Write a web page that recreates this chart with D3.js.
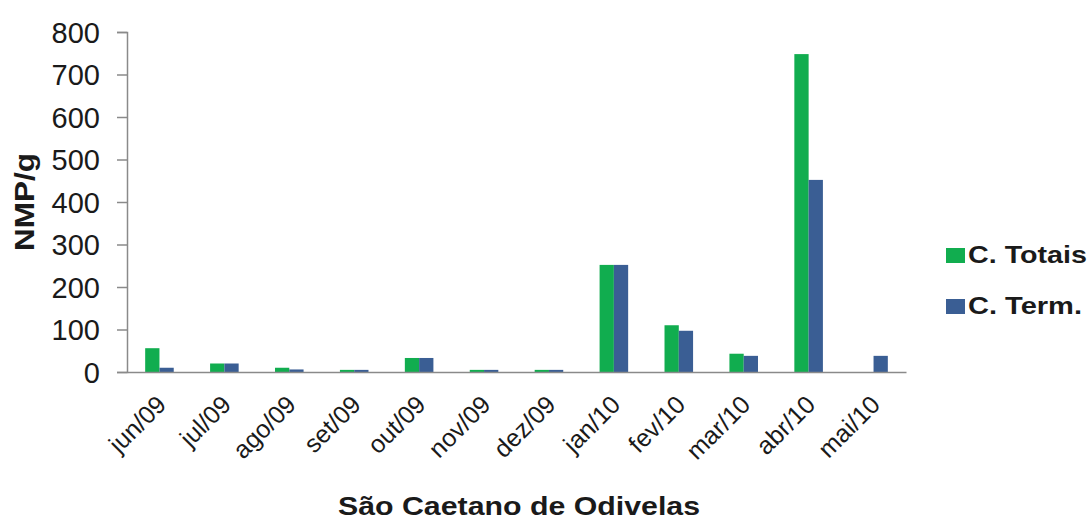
<!DOCTYPE html>
<html>
<head>
<meta charset="utf-8">
<script src="https://cdn.jsdelivr.net/npm/d3@7"></script>
<style>
  body { margin: 0; background: #fff; }
  text { font-family: "Liberation Sans", Arial, sans-serif; fill: #1a1a1a; }
</style>
</head>
<body>
<svg width="1090" height="522"></svg>
<script>
// data
const months = ["jun/09","jul/09","ago/09","set/09","out/09","nov/09","dez/09","jan/10","fev/10","mar/10","abr/10","mai/10"];
const totais = [56, 20, 10, 5, 33, 5, 5, 252, 110, 43, 748, 0];
const term   = [10, 20, 6, 5, 33, 5, 5, 252, 97, 38, 452, 38];
const seriesNames = ["C. Totais", "C. Term."];
const colors = ["#11ad4f", "#3a5e94"];
const yTicks = [0, 100, 200, 300, 400, 500, 600, 700, 800];

const plotL = 127, plotR = 906, plotT = 32, plotB = 372;

const svg = d3.select("svg");

const x = d3.scaleBand().domain(months).range([plotL, plotR]).paddingInner(0.56).paddingOuter(0.28);
const x1 = d3.scaleBand().domain(seriesNames).range([0, x.bandwidth()]);
const y = d3.scaleLinear().domain([0, 800]).range([plotB, plotT]);

// y axis
const yAxis = svg.append("g")
  .attr("transform", "translate(" + plotL + ",0)")
  .call(d3.axisLeft(y).tickValues(yTicks).tickSize(10).tickPadding(17));
yAxis.select(".domain").attr("stroke", "#8a8a8a").attr("stroke-width", 1.5);
yAxis.selectAll(".tick line").attr("stroke", "#8a8a8a").attr("stroke-width", 1.5);
yAxis.selectAll("text").style("font-size", "29px").attr("dy", "0.35em").attr("fill", "#1a1a1a");

// bars
const rows = months.map((m, i) => ({ month: m, vals: [totais[i], term[i]] }));
svg.append("g")
  .selectAll("g")
  .data(rows)
  .join("g")
    .attr("transform", d => "translate(" + x(d.month) + ",0)")
  .selectAll("rect")
  .data(d => d.vals.map((v, j) => ({ name: seriesNames[j], v: v, c: colors[j] })))
  .join("rect")
    .attr("x", d => x1(d.name))
    .attr("y", d => y(d.v))
    .attr("width", x1.bandwidth())
    .attr("height", d => plotB - y(d.v))
    .attr("fill", d => d.c);

// x axis
const xAxis = svg.append("g")
  .attr("transform", "translate(0," + plotB + ")")
  .call(d3.axisBottom(x).tickSize(0).tickPadding(14));
xAxis.select(".domain").attr("stroke", "#8a8a8a").attr("stroke-width", 1.5);
xAxis.selectAll("text")
  .style("font-size", "25px")
  .attr("text-anchor", "end")
  .attr("dy", "0.35em")
  .attr("transform", "translate(-8,18) rotate(-45)");

// y axis title
svg.append("text")
  .attr("transform", "translate(34,202) rotate(-90)")
  .attr("text-anchor", "middle")
  .attr("textLength", 98)
  .attr("lengthAdjust", "spacingAndGlyphs")
  .style("font-size", "28px")
  .style("font-weight", "bold")
  .text("NMP/g");

// x axis title
svg.append("text")
  .attr("x", 338)
  .attr("y", 515)
  .attr("textLength", 362)
  .attr("lengthAdjust", "spacingAndGlyphs")
  .style("font-size", "25px")
  .style("font-weight", "bold")
  .text("São Caetano de Odivelas");

// legend
const legendW = [119, 114];
const legend = svg.append("g")
  .selectAll("g")
  .data(seriesNames)
  .join("g")
    .attr("transform", (d, i) => "translate(946," + (263 + i * 51) + ")");
legend.append("rect")
  .attr("x", 0).attr("y", -15).attr("width", 19).attr("height", 15)
  .attr("fill", (d, i) => colors[i]);
legend.append("text")
  .attr("x", 22)
  .attr("textLength", (d, i) => legendW[i])
  .attr("lengthAdjust", "spacingAndGlyphs")
  .style("font-size", "24px")
  .style("font-weight", "bold")
  .text(d => d);
</script>
</body>
</html>
